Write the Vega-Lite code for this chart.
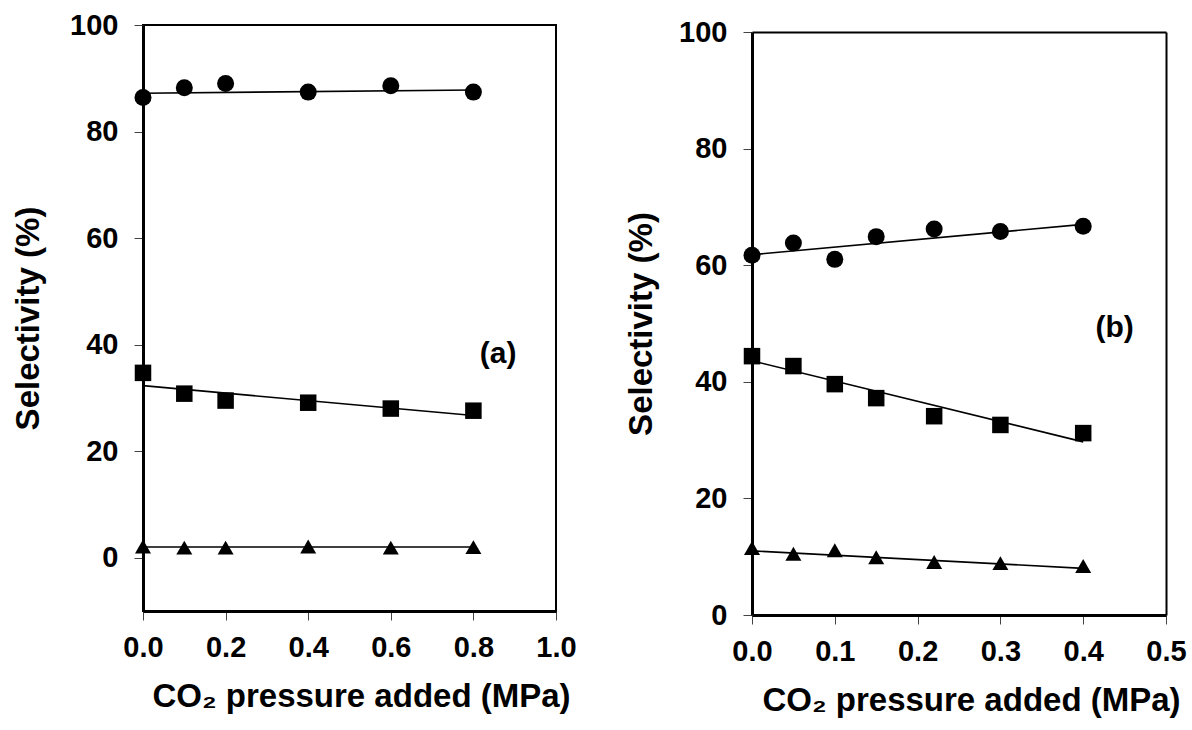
{
  "$schema": "https://vega.github.io/schema/vega-lite/v6.json",
  "padding": {"left": 11, "top": 10, "right": 0, "bottom": 5},
  "background": "white",
  "spacing": 47,
  "datasets": {
    "pointsA": [
      {"x": 0, "y": 86.4, "s": "circle"}, {"x": 0.1, "y": 88.2, "s": "circle"}, {"x": 0.2, "y": 89.0, "s": "circle"},
      {"x": 0.4, "y": 87.4, "s": "circle"}, {"x": 0.6, "y": 88.6, "s": "circle"}, {"x": 0.8, "y": 87.4, "s": "circle"},
      {"x": 0, "y": 34.7, "s": "square"}, {"x": 0.1, "y": 30.8, "s": "square"}, {"x": 0.2, "y": 29.5, "s": "square"},
      {"x": 0.4, "y": 29.1, "s": "square"}, {"x": 0.6, "y": 28.0, "s": "square"}, {"x": 0.8, "y": 27.6, "s": "square"},
      {"x": 0, "y": 2.1, "s": "triangle"}, {"x": 0.1, "y": 1.9, "s": "triangle"}, {"x": 0.2, "y": 1.9, "s": "triangle"},
      {"x": 0.4, "y": 2.1, "s": "triangle"}, {"x": 0.6, "y": 1.9, "s": "triangle"}, {"x": 0.8, "y": 2.0, "s": "triangle"}
    ],
    "fitA": [
      {"x": 0, "y": 87.2, "s": "circle"}, {"x": 0.8, "y": 87.8, "s": "circle"},
      {"x": 0, "y": 32.3, "s": "square"}, {"x": 0.8, "y": 26.7, "s": "square"},
      {"x": 0, "y": 2.0, "s": "triangle"}, {"x": 0.8, "y": 2.0, "s": "triangle"}
    ],
    "pointsB": [
      {"x": 0, "y": 61.7, "s": "circle"}, {"x": 0.05, "y": 63.8, "s": "circle"}, {"x": 0.1, "y": 61.0, "s": "circle"},
      {"x": 0.15, "y": 64.9, "s": "circle"}, {"x": 0.22, "y": 66.2, "s": "circle"}, {"x": 0.3, "y": 65.8, "s": "circle"},
      {"x": 0.4, "y": 66.7, "s": "circle"},
      {"x": 0, "y": 44.4, "s": "square"}, {"x": 0.05, "y": 42.7, "s": "square"}, {"x": 0.1, "y": 39.6, "s": "square"},
      {"x": 0.15, "y": 37.2, "s": "square"}, {"x": 0.22, "y": 34.1, "s": "square"}, {"x": 0.3, "y": 32.6, "s": "square"},
      {"x": 0.4, "y": 31.2, "s": "square"},
      {"x": 0, "y": 11.5, "s": "triangle"}, {"x": 0.05, "y": 10.5, "s": "triangle"}, {"x": 0.1, "y": 11.1, "s": "triangle"},
      {"x": 0.15, "y": 9.9, "s": "triangle"}, {"x": 0.22, "y": 9.1, "s": "triangle"}, {"x": 0.3, "y": 8.9, "s": "triangle"},
      {"x": 0.4, "y": 8.4, "s": "triangle"}
    ],
    "fitB": [
      {"x": 0, "y": 61.8, "s": "circle"}, {"x": 0.4, "y": 67.0, "s": "circle"},
      {"x": 0, "y": 43.6, "s": "square"}, {"x": 0.4, "y": 29.7, "s": "square"},
      {"x": 0, "y": 11.0, "s": "triangle"}, {"x": 0.4, "y": 8.0, "s": "triangle"}
    ],
    "labelA": [{"x": 0.86, "y": 38.3, "t": "(a)"}],
    "labelB": [{"x": 0.438, "y": 49.2, "t": "(b)"}]
  },
  "hconcat": [
    {
      "width": 413,
      "height": 586,
      "layer": [
        {
          "data": {"name": "fitA"},
          "mark": {"type": "line", "color": "black", "strokeWidth": 1.6},
          "encoding": {
            "x": {"field": "x", "type": "quantitative", "scale": {"domain": [0, 1], "nice": false},
              "axis": {"values": [0, 0.2, 0.4, 0.6, 0.8, 1.0], "format": ".1f", "title": "CO₂ pressure added (MPa)", "titleX": 218}},
            "y": {"field": "y", "type": "quantitative", "scale": {"domain": [-10, 100], "nice": false, "zero": false},
              "axis": {"values": [0, 20, 40, 60, 80, 100], "format": "d", "title": "Selectivity (%)", "titlePadding": 24}},
            "detail": {"field": "s"}
          }
        },
        {
          "data": {"name": "pointsA"},
          "mark": {"type": "point", "filled": true, "color": "black", "opacity": 1},
          "encoding": {
            "x": {"field": "x", "type": "quantitative"},
            "y": {"field": "y", "type": "quantitative"},
            "shape": {"field": "s", "type": "nominal", "scale": {"domain": ["circle", "square", "triangle"], "range": ["circle", "square", "triangle-up"]}, "legend": null},
            "size": {"field": "s", "type": "nominal", "scale": {"domain": ["circle", "square", "triangle"], "range": [289, 256, 560]}, "legend": null}
          }
        },
        {
          "data": {"name": "labelA"},
          "mark": {"type": "text", "font": "Liberation Sans", "fontSize": 30, "fontWeight": "bold", "color": "black", "align": "center", "baseline": "middle"},
          "encoding": {
            "x": {"field": "x", "type": "quantitative"},
            "y": {"field": "y", "type": "quantitative"},
            "text": {"field": "t"}
          }
        }
      ]
    },
    {
      "width": 414,
      "height": 590,
      "view": {"stroke": null},
      "resolve": {"axis": {"x": "independent", "y": "independent"}},
      "layer": [
        {
          "data": {"name": "fitB"},
          "mark": {"type": "line", "color": "black", "strokeWidth": 1.6},
          "encoding": {
            "x": {"field": "x", "type": "quantitative", "scale": {"domain": [0, 0.5], "nice": false},
              "axis": {"values": [0, 0.1, 0.2, 0.3, 0.4, 0.5], "format": ".1f", "title": "CO₂ pressure added (MPa)", "titleX": 219}},
            "y": {"field": "y", "type": "quantitative", "scale": {"domain": [0, 100], "nice": false, "range": [590, 7]},
              "axis": {"values": [0, 20, 40, 60, 80, 100], "format": "d", "title": "Selectivity (%)"}},
            "detail": {"field": "s"}
          }
        },
        {
          "data": {"name": "pointsB"},
          "mark": {"type": "point", "filled": true, "color": "black", "opacity": 1},
          "encoding": {
            "x": {"field": "x", "type": "quantitative",
              "axis": {"orient": "top", "offset": -7, "labels": false, "ticks": false, "title": null, "domainWidth": 2}},
            "y": {"field": "y", "type": "quantitative",
              "axis": {"orient": "right", "labels": false, "ticks": false, "title": null, "domainWidth": 2}},
            "shape": {"field": "s", "type": "nominal", "scale": {"domain": ["circle", "square", "triangle"], "range": ["circle", "square", "triangle-up"]}, "legend": null},
            "size": {"field": "s", "type": "nominal", "scale": {"domain": ["circle", "square", "triangle"], "range": [289, 256, 560]}, "legend": null}
          }
        },
        {
          "data": {"name": "labelB"},
          "mark": {"type": "text", "font": "Liberation Sans", "fontSize": 30, "fontWeight": "bold", "color": "black", "align": "center", "baseline": "middle"},
          "encoding": {
            "x": {"field": "x", "type": "quantitative", "axis": null},
            "y": {"field": "y", "type": "quantitative", "axis": null},
            "text": {"field": "t"}
          }
        }
      ]
    }
  ],
  "config": {
    "font": "Liberation Sans",
    "view": {"stroke": "black", "strokeWidth": 2},
    "axis": {
      "grid": false,
      "labelFont": "Liberation Sans", "labelFontSize": 29, "labelFontWeight": "bold", "labelColor": "black",
      "titleFont": "Liberation Sans", "titleFontSize": 33, "titleFontWeight": "bold", "titleColor": "black",
      "domainColor": "black", "domainWidth": 3,
      "tickColor": "#444", "tickWidth": 1, "tickSize": 9,
      "labelOverlap": false, "labelFlush": false
    },
    "axisX": {"labelPadding": 13, "titlePadding": 18},
    "axisY": {"labelPadding": 16, "titlePadding": 20}
  }
}
